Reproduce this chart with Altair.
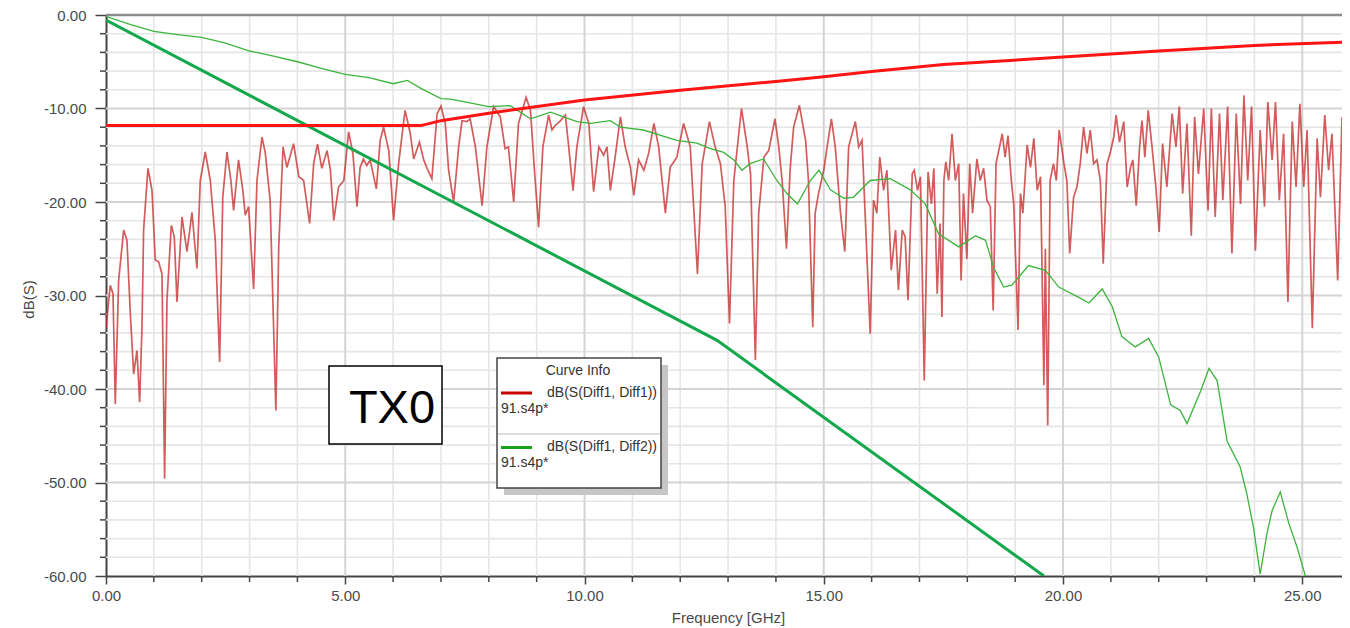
import altair as alt
import pandas as pd

# ---------------- data ----------------
s11_freq = [0.00, 0.09, 0.146, 0.194, 0.264, 0.369, 0.438, 0.508, 0.578, 0.647, 0.703, 0.752, 0.786, 0.877, 0.961,
            1.03, 1.10, 1.17, 1.225, 1.274, 1.365, 1.427, 1.483, 1.588, 1.692, 1.797, 1.90, 1.97, 2.075, 2.18,
            2.284, 2.375, 2.44, 2.528, 2.61, 2.667, 2.77, 2.86, 2.91, 2.98, 3.085, 3.155, 3.26, 3.33, 3.43,
            3.55, 3.61, 3.70, 3.78, 3.92, 4.03, 4.13, 4.255, 4.34, 4.42, 4.51, 4.62, 4.69, 4.76, 4.86,
            4.97, 5.07, 5.16, 5.245, 5.31, 5.38, 5.45, 5.52, 5.65, 5.73, 5.80, 5.91, 6.01, 6.115, 6.25,
            6.36, 6.43, 6.55, 6.64, 6.71, 6.81, 6.92, 7.00, 7.09, 7.16, 7.265, 7.37, 7.44, 7.54, 7.61,
            7.72, 7.86, 7.96, 8.10, 8.24, 8.34, 8.41, 8.52, 8.62, 8.78, 8.87, 8.95, 9.04, 9.13, 9.25,
            9.32, 9.39, 9.50, 9.60, 9.67, 9.76, 9.84, 9.98, 10.09, 10.19, 10.30, 10.40, 10.47, 10.54, 10.64,
            10.75, 10.85, 10.96, 11.03, 11.13, 11.24, 11.34, 11.45, 11.55, 11.69, 11.79, 11.93, 12.07, 12.21, 12.36,
            12.46, 12.61, 12.73, 12.84, 12.94, 13.03, 13.12, 13.28, 13.40, 13.47, 13.57, 13.64, 13.75, 13.85, 13.98,
            14.06, 14.13, 14.22, 14.30, 14.37, 14.49, 14.62, 14.68, 14.77, 14.82, 14.89, 15.00, 15.07, 15.16, 15.24,
            15.35, 15.44, 15.52, 15.66, 15.73, 15.80, 15.87, 15.97, 16.04, 16.11, 16.17, 16.25, 16.32, 16.41, 16.50,
            16.56, 16.64, 16.70, 16.76, 16.85, 16.89, 16.96, 17.02, 17.10, 17.18, 17.25, 17.30, 17.37, 17.43, 17.47,
            17.51, 17.55, 17.61, 17.68, 17.75, 17.82, 17.87, 17.92, 17.99, 18.05, 18.11, 18.20, 18.27, 18.34, 18.41,
            18.48, 18.54, 18.60, 18.73, 18.79, 18.85, 18.92, 18.97, 19.06, 19.11, 19.16, 19.25, 19.32, 19.39, 19.46,
            19.53, 19.60, 19.63, 19.68, 19.73, 19.80, 19.86, 19.92, 20.02, 20.08, 20.14, 20.22, 20.29, 20.36, 20.43,
            20.50, 20.57, 20.64, 20.71, 20.78, 20.84, 20.92, 20.99, 21.06, 21.11, 21.18, 21.27, 21.34, 21.41, 21.46,
            21.53, 21.60, 21.65, 21.71, 21.78, 21.86, 21.94, 22.01, 22.08, 22.17, 22.28, 22.36, 22.43, 22.50, 22.59,
            22.68, 22.75, 22.83, 22.94, 23.03, 23.10, 23.18, 23.27, 23.34, 23.44, 23.53, 23.62, 23.71, 23.78, 23.86,
            23.94, 24.02, 24.12, 24.21, 24.28, 24.37, 24.44, 24.52, 24.61, 24.70, 24.79, 24.87, 24.95, 25.03, 25.10,
            25.21, 25.31, 25.38, 25.47, 25.55, 25.62, 25.74, 25.83, 25.91, 25.95, 25.98]
s11_db = [-33.4, -28.9, -29.8, -41.6, -28.4, -23.0, -24.1, -31.9, -38.4, -35.9, -41.4, -33.4, -23.0, -16.4, -18.75,
          -26.2, -26.4, -27.7, -49.6, -30.5, -22.5, -23.7, -30.7, -21.6, -25.3, -21.1, -27.1, -17.7, -14.65, -17.7,
          -24.1, -37.1, -19.5, -14.65, -17.7, -20.9, -15.5, -18.75, -21.4, -20.5, -29.3, -17.7, -13.05, -14.8, -19.8,
          -42.3, -24.8, -14.1, -16.3, -13.76, -17.3, -17.7, -22.3, -15.9, -13.8, -16.4, -14.5, -16.6, -21.96, -18.4,
          -17.7, -12.5, -14.8, -20.5, -16.3, -15.4, -16.1, -15.5, -18.6, -13.4, -12.0, -14.5, -21.96, -15.9, -10.2,
          -12.7, -15.4, -13.6, -15.5, -16.4, -17.5, -10.55, -9.76, -11.6, -16.6, -20.0, -14.1, -11.3, -11.4, -11.1,
          -14.1, -20.4, -14.1, -9.8, -10.9, -14.3, -14.1, -20.0, -11.6, -8.8, -10.2, -16.3, -22.7, -14.1, -10.7,
          -12.3, -11.8, -11.3, -10.7, -14.1, -18.8, -14.1, -9.8, -11.6, -18.9, -14.1, -15.0, -14.1, -18.75, -15.2,
          -10.9, -14.1, -16.3, -19.3, -15.5, -16.6, -14.8, -11.6, -14.1, -21.2, -16.3, -15.2, -11.6, -14.1, -27.7,
          -15.9, -11.4, -14.1, -15.9, -20.5, -33.0, -17.7, -10.0, -14.1, -16.97, -36.9, -21.2, -15.2, -14.5, -11.1,
          -14.1, -17.7, -25.0, -16.3, -12.0, -9.66, -13.4, -17.7, -33.4, -21.2, -19.1, -16.6, -14.1, -11.1, -14.1,
          -21.2, -25.3, -14.1, -11.4, -14.1, -13.4, -21.96, -34.1, -19.8, -21.2, -15.2, -18.75, -16.6, -27.3, -23.0,
          -29.4, -23.0, -23.7, -30.5, -16.97, -16.6, -18.75, -17.3, -39.1, -16.8, -20.2, -16.4, -29.8, -22.3, -32.3,
          -17.7, -15.7, -17.7, -12.7, -17.7, -15.9, -28.4, -19.1, -26.1, -15.9, -21.2, -15.4, -17.7, -16.4, -19.8,
          -20.5, -31.6, -15.9, -12.7, -15.2, -12.9, -17.7, -20.2, -33.7, -19.1, -21.2, -13.9, -16.3, -13.2, -18.75,
          -17.3, -39.6, -25.0, -43.9, -17.7, -15.9, -17.7, -12.3, -15.9, -17.7, -25.5, -19.5, -18.4, -15.9, -12.0,
          -14.8, -12.3, -15.9, -15.5, -17.7, -26.6, -15.9, -14.65, -13.05, -10.7, -13.6, -11.4, -18.4, -16.3, -15.5,
          -20.4, -14.1, -11.3, -15.2, -10.2, -14.1, -18.4, -23.2, -13.76, -18.4, -10.55, -14.1, -9.8, -19.1, -11.6,
          -23.6, -10.9, -17.0, -10.0, -20.9, -10.0, -21.6, -10.55, -19.8, -9.8, -25.5, -10.55, -20.2, -8.6, -17.7,
          -9.8, -25.2, -12.3, -20.5, -9.3, -15.5, -9.3, -19.8, -12.7, -30.7, -11.4, -18.4, -9.5, -18.4, -12.3,
          -33.5, -13.2, -19.5, -10.7, -16.6, -12.7, -28.4, -10.9, -17.7, -9.8, -7.0]

s21_freq = [0.0, 0.5, 1.0, 1.5, 2.0, 2.5, 3.0, 3.5, 4.0, 4.5, 5.0, 5.5, 6.0, 6.3, 6.6, 7.0, 7.2, 7.5, 8.0, 8.45,
            8.87, 9.29, 9.84, 10.12, 10.54, 10.75, 11.23, 11.93, 12.35, 12.63, 12.91, 13.12, 13.29, 13.46, 13.74,
            14.02, 14.23, 14.45, 14.72, 14.9, 15.14, 15.42, 15.62, 15.97, 16.39, 16.81, 17.12, 17.4, 17.82, 18.17,
            18.38, 18.55, 18.76, 18.93, 19.28, 19.63, 19.91, 20.33, 20.54, 20.82, 21.03, 21.23, 21.51, 21.79, 22.0,
            22.25, 22.45, 22.59, 22.87, 23.05, 23.22, 23.43, 23.7, 23.84, 23.98, 24.12, 24.26, 24.37, 24.54, 24.72,
            24.89, 25.06, 25.3, 25.95, 26.0]
s21_db = [-0.15, -1.0, -1.75, -2.1, -2.4, -3.0, -3.85, -4.4, -5.0, -5.7, -6.35, -6.7, -7.35, -7.0, -7.9, -8.95, -9.0,
          -9.3, -9.8, -9.7, -11.1, -10.4, -11.4, -11.6, -11.3, -12.0, -12.3, -13.4, -13.7, -14.3, -14.7, -15.5, -16.6,
          -15.9, -15.4, -17.7, -19.1, -20.2, -17.7, -16.6, -18.7, -19.6, -19.5, -17.7, -17.5, -18.7, -20.2, -23.4,
          -24.8, -23.6, -24.1, -27.0, -29.1, -28.9, -26.8, -27.3, -29.1, -30.2, -30.8, -29.3, -31.2, -34.4, -35.5,
          -34.6, -36.6, -41.7, -42.3, -43.7, -40.3, -37.8, -39.1, -45.6, -48.3, -51.2, -54.8, -59.8, -55.5, -53.0,
          -51.0, -54.4, -56.9, -59.9, -64.0, -63.0, -56.0]

mask_rl_freq = [0.0, 6.58, 7.0, 8.0, 10.0, 12.0, 14.0, 15.0, 16.0, 17.5, 20.0, 22.0, 24.0, 25.93]
mask_rl_db = [-11.83, -11.83, -11.3, -10.5, -9.1, -8.05, -7.1, -6.6, -6.05, -5.3, -4.5, -3.85, -3.25, -2.9]

mask_il_freq = [0.0, 12.77, 19.6]
mask_il_db = [-0.55, -34.8, -60.0]

x_major = [0, 5, 10, 15, 20, 25]
x_minor = [1, 2, 3, 4, 6, 7, 8, 9, 11, 12, 13, 14, 16, 17, 18, 19, 21, 22, 23, 24]
y_major = [0, -10, -20, -30, -40, -50, -60]
y_minor = [-2, -4, -6, -8, -12, -14, -16, -18, -22, -24, -26, -28, -32, -34, -36, -38,
           -42, -44, -46, -48, -52, -54, -56, -58]

legend_entries = ["dB(S(Diff1, Diff1))", "dB(S(Diff1, Diff2))"]
legend_file = "91.s4p*"

# ---------------- layout ----------------
W, H = 1236, 561
XMAX = 25.83   # visible right end of the frequency axis (the reference is cropped there)
FONT = "Liberation Sans"

xscale = alt.Scale(domain=[0, XMAX], nice=False, zero=False)
yscale = alt.Scale(domain=[-60, 0], nice=False, zero=False)

fmt = "replace(format(datum.value, '.2f'), '\u2212', '-')"

xaxis = alt.Axis(values=x_major, labelExpr=fmt, grid=False, tickSize=8, tickWidth=1.5, tickColor="#444",
                 domainColor="#444", domainWidth=2, labelFont=FONT, labelFontSize=15, labelColor="#4a4a4a",
                 labelPadding=4, labelFlush=False, labelOverlap=False,
                 title="Frequency [GHz]", titleFont=FONT, titleFontSize=15, titleFontWeight="normal",
                 titleColor="#4a4a4a", titleBaseline="alphabetic", titleY=46, titleX=622)
yaxis = alt.Axis(values=y_major, labelExpr=fmt, grid=False, tickSize=11, tickWidth=1.5, tickColor="#444",
                 domainColor="#444", domainWidth=2, labelFont=FONT, labelFontSize=15, labelColor="#4a4a4a",
                 labelPadding=9, labelFlush=False, labelOverlap=False,
                 title="dB(S)", titleFont=FONT, titleFontSize=15, titleFontWeight="normal", titleColor="#4a4a4a",
                 titleAngle=270, titleAlign="center", titleBaseline="alphabetic", titleX=-73, titleY=284)


def X(field="f"):
    return alt.X(f"{field}:Q", scale=xscale, axis=xaxis)


def Y(field="db"):
    return alt.Y(f"{field}:Q", scale=yscale, axis=yaxis)


one = pd.DataFrame({"k": [0]})

# grid lines
gx_minor = alt.Chart(pd.DataFrame({"f": x_minor})).mark_rule(color="#e6e6e6", strokeWidth=1.6).encode(
    x=X(), y=alt.value(0), y2=alt.value(H))
gy_minor = alt.Chart(pd.DataFrame({"db": y_minor})).mark_rule(color="#e6e6e6", strokeWidth=1.6).encode(
    y=Y(), x=alt.value(0), x2=alt.value(W))
gx_major = alt.Chart(pd.DataFrame({"f": x_major[1:]})).mark_rule(color="#d4d4d4", strokeWidth=2).encode(
    x=X(), y=alt.value(0), y2=alt.value(H))
gy_major = alt.Chart(pd.DataFrame({"db": y_major[1:-1]})).mark_rule(color="#d4d4d4", strokeWidth=2).encode(
    y=Y(), x=alt.value(0), x2=alt.value(W))

# minor tick marks
tx_minor = alt.Chart(pd.DataFrame({"f": x_minor})).mark_rule(color="#444", strokeWidth=1.5).encode(
    x=X(), y=alt.value(H), y2=alt.value(H + 6))
ty_minor = alt.Chart(pd.DataFrame({"db": y_minor})).mark_rule(color="#444", strokeWidth=1.5).encode(
    y=Y(), x=alt.value(-6), x2=alt.value(0))

# frame (top border)
top_border = alt.Chart(one).mark_rule(color="#8c8c8c", strokeWidth=2.5).encode(
    x=alt.value(0), x2=alt.value(W), y=alt.value(0))

# curves
s11 = alt.Chart(pd.DataFrame({"f": s11_freq, "db": s11_db})).mark_line(
    clip=True, color="#c42525", strokeWidth=1.7, opacity=0.75).encode(x=X(), y=Y())
s21 = alt.Chart(pd.DataFrame({"f": s21_freq, "db": s21_db})).mark_line(
    clip=True, color="#3cb43c", strokeWidth=1.3).encode(x=X(), y=Y())
mask_il = alt.Chart(pd.DataFrame({"f": mask_il_freq, "db": mask_il_db})).mark_line(
    clip=True, color="#14a84c", strokeWidth=3).encode(x=X(), y=Y())
mask_rl = alt.Chart(pd.DataFrame({"f": mask_rl_freq, "db": mask_rl_db})).mark_line(
    clip=True, color="#ff1414", strokeWidth=3).encode(x=X(), y=Y())

# TX0 box
tx_box = alt.Chart(one).mark_rect(fill="white", stroke="black", strokeWidth=1.5).encode(
    x=alt.value(223), x2=alt.value(336), y=alt.value(351), y2=alt.value(429))
tx_text = alt.Chart(one).mark_text(text="TX0", font=FONT, fontSize=47, color="black",
                                   align="center", baseline="alphabetic").encode(
    x=alt.value(286), y=alt.value(408))

# Curve Info legend box
lg_shadow = alt.Chart(one).mark_rect(fill="#c6c6c6").encode(
    x=alt.value(398), x2=alt.value(562), y=alt.value(350), y2=alt.value(480))
lg_box = alt.Chart(one).mark_rect(fill="white", stroke="#444", strokeWidth=1.5).encode(
    x=alt.value(391), x2=alt.value(555), y=alt.value(343), y2=alt.value(473))
lg_title = alt.Chart(one).mark_text(text="Curve Info", font=FONT, fontSize=14, color="#333",
                                    align="center", baseline="middle").encode(
    x=alt.value(472), y=alt.value(356))
lg_sep = alt.Chart(one).mark_rule(color="#bdbdbd", strokeWidth=1.2).encode(
    x=alt.value(392), x2=alt.value(554), y=alt.value(419))
lg_line1 = alt.Chart(one).mark_rule(color="#c40000", strokeWidth=3).encode(
    x=alt.value(395), x2=alt.value(426), y=alt.value(378))
lg_line2 = alt.Chart(one).mark_rule(color="#1aa31a", strokeWidth=3).encode(
    x=alt.value(395), x2=alt.value(426), y=alt.value(432.5))
lg_t1 = alt.Chart(one).mark_text(text=legend_entries[0], font=FONT, fontSize=14, color="#333",
                                 align="right", baseline="middle").encode(x=alt.value(551), y=alt.value(378))
lg_f1 = alt.Chart(one).mark_text(text=legend_file, font=FONT, fontSize=14, color="#333",
                                 align="left", baseline="middle").encode(x=alt.value(395), y=alt.value(394))
lg_t2 = alt.Chart(one).mark_text(text=legend_entries[1], font=FONT, fontSize=14, color="#333",
                                 align="right", baseline="middle").encode(x=alt.value(551), y=alt.value(432))
lg_f2 = alt.Chart(one).mark_text(text=legend_file, font=FONT, fontSize=14, color="#333",
                                 align="left", baseline="middle").encode(x=alt.value(395), y=alt.value(448))

chart = alt.layer(
    gx_minor, gy_minor, gx_major, gy_major, tx_minor, ty_minor,
    s11, s21, mask_il, mask_rl,
    top_border,
    tx_box, tx_text,
    lg_shadow, lg_box, lg_title, lg_sep, lg_line1, lg_line2, lg_t1, lg_f1, lg_t2, lg_f2,
).properties(
    width=W, height=H,
    padding={"left": 98, "top": 7, "right": 0, "bottom": 56},
    autosize=alt.AutoSizeParams(type="none"),
).configure_view(stroke=None).configure(background="white")

chart.save("out.html", embed_options={"renderer": "svg", "actions": False})
